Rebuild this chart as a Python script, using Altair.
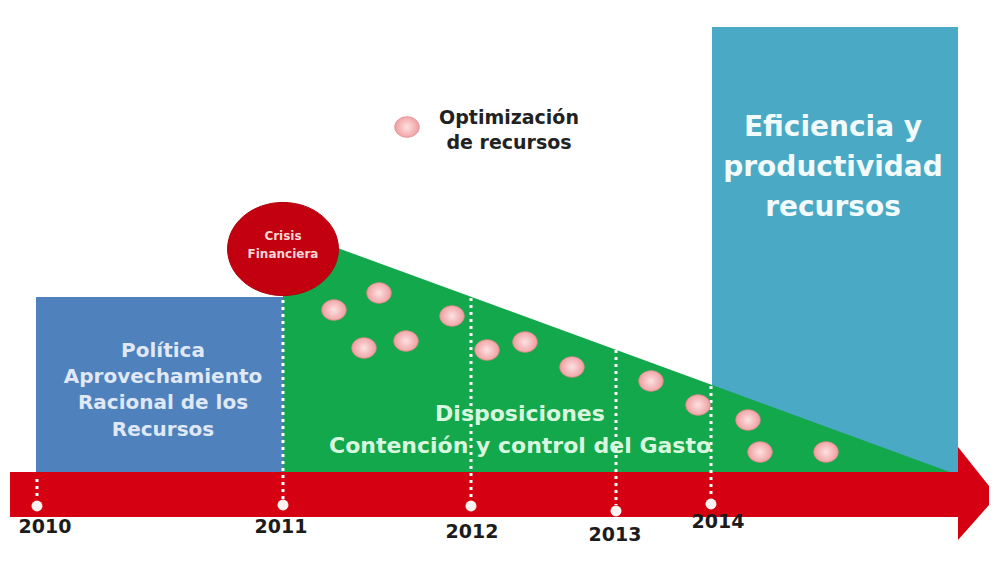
import altair as alt
import pandas as pd

# ---- data (diagram coordinates = picture pixels) ----
years = ["2010", "2011", "2012", "2013", "2014"]
year_x = [37, 283, 471, 616, 711]
year_label_x = [45, 281, 472, 615, 718]
year_label_y = [527, 527, 532, 535, 522]
marker_y = [506, 505, 506, 511, 504]
guide_top = [479, 300, 298, 350, 386]
guide_bottom = [500, 500, 500, 505, 498]

dot_x = [334, 379, 364, 406, 452, 487, 525, 572, 651, 698, 748, 760, 826]
dot_y = [310, 293, 348, 341, 316, 350, 342, 367, 381, 405, 420, 452, 452]

band_x = [10]
band_x2 = [958]
band_y = [472]
band_y2 = [517]
head_x = [958, 997]
head_top = [447, 496]
head_bot = [540, 496]

tri_x = [283, 958]
tri_top = [228, 475]
tri_bot = [473, 473]

boxes = ["Política", "Eficiencia"]
box_x = [36, 712]
box_x2 = [283, 958]
box_y = [297, 27]
box_y2 = [473, 473]

blue_lines = ["Política", "Aprovechamiento", "Racional de los", "Recursos"]
blue_y = [351, 377, 403, 430]
green_lines = ["Disposiciones", "Contención y control del Gasto"]
green_y = [414, 446]
teal_lines = ["Eficiencia  y", "productividad", "recursos"]
teal_y = [128, 168, 208]
crisis_lines = ["Crisis", "Financiera"]
crisis_y = [236, 254]
legend_lines = ["Optimización", "de recursos"]
legend_y = [118, 143]

W, H = 981, 566
X = alt.Scale(domain=[8, 989])
Y = alt.Scale(domain=[8, 574], reverse=True)
FONT = "DejaVu Sans"
ELL = "M -1 0 A 1 0.84 0 1 0 1 0 A 1 0.84 0 1 0 -1 0 Z"


def xy(x="x", y="y"):
    return dict(x=alt.X(f"{x}:Q", scale=X, axis=None),
                y=alt.Y(f"{y}:Q", scale=Y, axis=None))


def text_layer(lines, xs, ys, size, color, align="center"):
    df = pd.DataFrame({"t": lines, "x": xs, "y": ys})
    return alt.Chart(df).mark_text(font=FONT, fontWeight="bold", fontSize=size, color=color,
                                   baseline="middle", align=align).encode(**xy(), text="t:N")


# rectangles
rect_df = pd.DataFrame({"name": boxes, "x": box_x, "x2": box_x2, "y": box_y, "y2": box_y2})
rects = alt.Chart(rect_df).mark_rect().encode(
    **xy(), x2="x2:Q", y2="y2:Q",
    color=alt.Color("name:N", scale=alt.Scale(domain=boxes, range=["#4f81bd", "#4aaac6"]), legend=None),
)

# green triangle
tri_df = pd.DataFrame({"x": tri_x, "y": tri_top, "y2": tri_bot})
tri = alt.Chart(tri_df).mark_area(color="#13a84b", opacity=1).encode(**xy(), y2="y2:Q")

# red arrow: band + head
band_df = pd.DataFrame({"x": band_x, "x2": band_x2, "y": band_y, "y2": band_y2})
band = alt.Chart(band_df).mark_rect(color="#d50012").encode(**xy(), x2="x2:Q", y2="y2:Q")
head_df = pd.DataFrame({"x": head_x, "y": head_top, "y2": head_bot})
head = alt.Chart(head_df).mark_area(color="#d50012", opacity=1).encode(**xy(), y2="y2:Q")

# dotted guides
g_df = pd.DataFrame({"x": year_x, "y": guide_top, "y2": guide_bottom})
guides = alt.Chart(g_df).mark_rule(color="#ffffff", strokeWidth=3, strokeDash=[3, 4]).encode(
    **xy(), y2="y2:Q")

# year markers
m_df = pd.DataFrame({"x": year_x, "y": marker_y})
markers = alt.Chart(m_df).mark_point(shape="circle", filled=True, color="#fdf3f0", opacity=1, size=120).encode(**xy())

ylabels = text_layer(years, year_label_x, year_label_y, 19, "#1c1c1c")

# crisis circle
c_df = pd.DataFrame({"x": [283], "y": [249]})
circle = alt.Chart(c_df).mark_point(shape=ELL, filled=True, color="#c20010", opacity=1, size=12300,
                                    stroke="#b0000c", strokeWidth=1).encode(**xy())
crisis_txt = text_layer(crisis_lines, [283, 283], crisis_y, 12, "#f6d6d6")

# pink dots
grad = alt.RadialGradient(gradient="radial", stops=[
    alt.GradientStop(offset=0, color="#fde2e2"),
    alt.GradientStop(offset=1, color="#ef9c9e")])
d_df = pd.DataFrame({"x": dot_x + [407], "y": dot_y + [127]})
dots = alt.Chart(d_df).mark_point(shape=ELL, filled=True, fill=grad, opacity=1, size=600,
                                  stroke="#e2898c", strokeWidth=0.8).encode(**xy())

legend_txt = text_layer(legend_lines, [509, 509], legend_y, 19, "#222222")
blue_txt = text_layer(blue_lines, [163] * 4, blue_y, 20, "#dfe8f4")
green_txt = text_layer(green_lines, [520, 520], green_y, 22, "#d9f7de")
teal_txt = text_layer(teal_lines, [833] * 3, teal_y, 28, "#f2fafc")

chart = alt.layer(
    rects, tri, band, head, guides, markers, ylabels, circle, crisis_txt, dots, legend_txt,
    blue_txt, green_txt, teal_txt,
).properties(
    width=W, height=H, padding=0, autosize=alt.AutoSizeParams(type="none"), background="#ffffff",
).configure_view(stroke=None)

chart.save("out.html", embed_options={"renderer": "svg", "actions": False})
